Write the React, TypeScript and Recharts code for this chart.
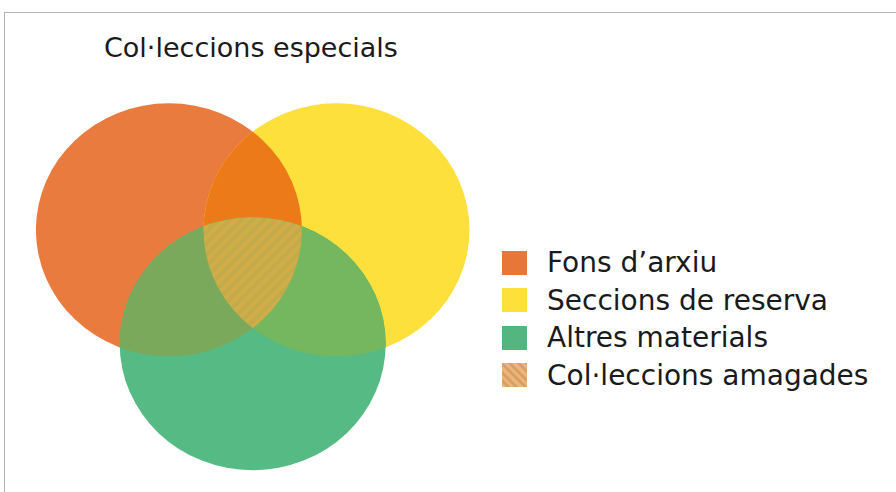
import React from "react";
import { ScatterChart, Scatter, XAxis, YAxis } from "recharts";

// three sets of the venn, in radius units
const SETS = ["Fons d’arxiu", "Seccions de reserva", "Altres materials"];
const SET_KEYS = ["fons", "seccions", "altres"];
const SET_X = [-0.63, 0.63, 0];
const SET_Y = [0.45, 0.45, -0.45];
const SET_R = [1, 1, 1];
const SET_COLORS = ["#EA7B3E", "#FDE03B", "#56BA84"];

// overlaps: indices of sets that intersect
const OVERLAPS = [[0, 1], [0, 2], [1, 2], [0, 1, 2]];
const OVERLAP_COLORS = ["#EC7A18", "#7AA95B", "#74B75E", "hatch"];

const LEGEND_LABELS = [...SETS, "Col·leccions amagades"];
const LEGEND_COLORS = ["#E97639", "#FDE13A", "#53B57F", "hatch"];

const TITLE = "Col·leccions especials";

const W = 896;
const H = 492;
const PX_X = 133;
const PX_Y = 126.5;
const X_MIN = -1.9;
const X_MAX = X_MIN + W / PX_X;
const Y_MAX = 2.267;
const Y_MIN = Y_MAX - H / PX_Y;

const FONT = "'DejaVu Sans', sans-serif";

const setData = SETS.map((name, i) => ({
  name,
  key: SET_KEYS[i],
  x: SET_X[i],
  y: SET_Y[i],
  r: SET_R[i],
  fill: SET_COLORS[i],
}));

const overlapData = OVERLAPS.map((ids, i) => {
  const last = ids[ids.length - 1];
  return {
    x: SET_X[last],
    y: SET_Y[last],
    r: SET_R[last],
    clips: ids.slice(0, -1).map((k) => SET_KEYS[k]),
    fill: OVERLAP_COLORS[i],
  };
});

function SetShape(props: any) {
  const { cx, cy, payload } = props;
  const rx = payload.r * PX_X;
  const ry = payload.r * PX_Y;
  return (
    <g>
      <defs>
        <clipPath id={`clip-${payload.key}`}>
          <ellipse cx={cx} cy={cy} rx={rx} ry={ry} />
        </clipPath>
      </defs>
      <ellipse cx={cx} cy={cy} rx={rx} ry={ry} fill={payload.fill} />
    </g>
  );
}

function OverlapShape(props: any) {
  const { cx, cy, payload } = props;
  const rx = payload.r * PX_X;
  const ry = payload.r * PX_Y;
  const hatch = payload.fill === "hatch";
  let node: React.ReactNode = (
    <ellipse
      cx={cx}
      cy={cy}
      rx={rx}
      ry={ry}
      fill={hatch ? "url(#venn-hatch)" : payload.fill}
    />
  );
  payload.clips.forEach((c: string) => {
    node = <g clipPath={`url(#clip-${c})`}>{node}</g>;
  });
  return (
    <g>
      {hatch && (
        <defs>
          <pattern
            id="venn-hatch"
            width={8}
            height={8}
            patternUnits="userSpaceOnUse"
            patternTransform="rotate(45)"
          >
            <rect width={8} height={8} fill="#C3AB4C" />
            <rect width={4} height={8} fill="#D2AC46" />
          </pattern>
        </defs>
      )}
      {node}
    </g>
  );
}

function VennLegend() {
  return (
    <div style={{ position: "absolute", left: 502, top: 244, fontFamily: FONT }}>
      {LEGEND_LABELS.map((label, i) => (
        <div
          key={label}
          style={{
            display: "flex",
            alignItems: "center",
            height: 37.5,
            fontSize: 28,
            color: "#1a1a1a",
            whiteSpace: "nowrap",
          }}
        >
          <span
            style={{
              width: 25,
              height: 24,
              marginRight: 20,
              background:
                LEGEND_COLORS[i] === "hatch"
                  ? "repeating-linear-gradient(45deg, #E9B57C 0 3px, #D9A062 3px 6px)"
                  : LEGEND_COLORS[i],
            }}
          />
          <span>{label}</span>
        </div>
      ))}
    </div>
  );
}

export default function App() {
  return (
    <div style={{ position: "relative", width: W, height: H, background: "#fff" }}>
      <style>{"body{margin:0}"}</style>
      <div
        style={{
          position: "absolute",
          left: 4,
          top: 12,
          right: 0,
          bottom: 0,
          borderTop: "1.5px solid #b4b4b4",
          borderLeft: "1.5px solid #b4b4b4",
        }}
      />
      <ScatterChart width={W} height={H} margin={{ top: 0, right: 0, bottom: 0, left: 0 }}>
        <XAxis type="number" dataKey="x" domain={[X_MIN, X_MAX]} hide allowDataOverflow />
        <YAxis type="number" dataKey="y" domain={[Y_MIN, Y_MAX]} hide allowDataOverflow />
        <Scatter data={setData} shape={SetShape} isAnimationActive={false} />
        <Scatter data={overlapData} shape={OverlapShape} isAnimationActive={false} />
      </ScatterChart>
      <VennLegend />
      <div
        style={{
          position: "absolute",
          left: 104,
          top: 34,
          fontFamily: FONT,
          fontSize: 27,
          lineHeight: 1,
          color: "#1a1a1a",
        }}
      >
        {TITLE}
      </div>
    </div>
  );
}
